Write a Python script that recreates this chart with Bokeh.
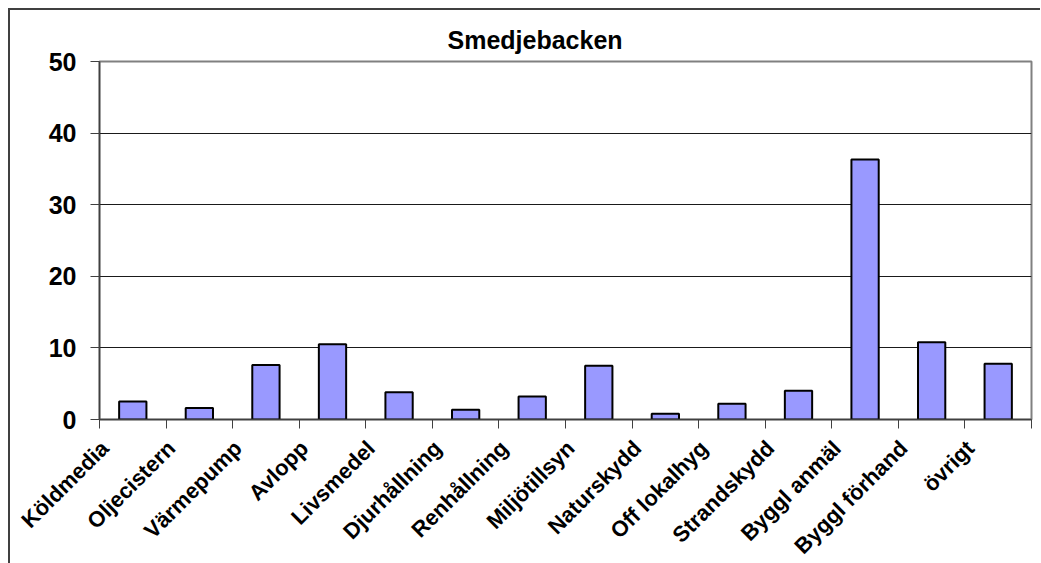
import math
from bokeh.plotting import figure
from bokeh.models import ColumnDataSource, FixedTicker, Range1d, Title
from bokeh.embed import file_html
from bokeh.resources import INLINE

categories = ["Köldmedia", "Oljecistern", "Värmepump", "Avlopp", "Livsmedel",
              "Djurhållning", "Renhållning", "Miljötillsyn", "Naturskydd",
              "Off lokalhyg", "Strandskydd", "Byggl anmäl", "Byggl förhand", "övrigt"]
values = [2.5, 1.6, 7.6, 10.5, 3.8, 1.35, 3.2, 7.5, 0.8, 2.2, 4.0, 36.3, 10.8, 7.8]
y_ticks = [0, 10, 20, 30, 40, 50]
title_text = "Smedjebacken"

n = len(categories)
centers = [i + 0.5 for i in range(n)]
src = ColumnDataSource(dict(x=centers, top=values, cat=categories))

FONT = "Liberation Sans"
LABEL_SHIFT = -0.42  # rotated labels sit left of the category centre

p = figure(output_backend="svg", toolbar_location=None,
           frame_width=932, frame_height=358,
           x_range=Range1d(0, n), y_range=Range1d(0, 50),
           min_border_left=89, min_border_top=51, min_border_right=9,
           min_border_bottom=136)
p.title = None
t = Title(text=title_text, align="left", offset=348, text_font=FONT,
          text_font_size="25px", text_font_style="bold", text_color="black",
          standoff=16)
p.add_layout(t, "above")

p.styles = {"border-left": "2px solid #404040", "border-top": "2px solid #404040",
            "margin-left": "8px", "margin-top": "8px"}

p.vbar(x="x", top="top", bottom=0, width=0.41, source=src,
       fill_color="#9999FF", line_color="black", line_width=2)

# grid
p.xgrid.visible = False
p.ygrid.ticker = FixedTicker(ticks=y_ticks)
p.ygrid.grid_line_color = "#1a1a1a"
p.ygrid.grid_line_width = 1

p.outline_line_color = "#808080"
p.outline_line_width = 2

# y axis
ya = p.yaxis[0]
ya.ticker = FixedTicker(ticks=y_ticks)
ya.axis_line_color = "#404040"
ya.axis_line_width = 1.5
ya.major_tick_in = 0
ya.major_tick_out = 9
ya.major_tick_line_color = "#404040"
ya.minor_tick_line_color = None
ya.major_label_text_font = FONT
ya.major_label_text_font_style = "bold"
ya.major_label_text_font_size = "25px"
ya.major_label_text_color = "black"
ya.major_label_standoff = 14

# x axis: labels near centers, ticks at category boundaries
label_pos = [c + LABEL_SHIFT for c in centers]
xa = p.xaxis[0]
xa.ticker = FixedTicker(ticks=label_pos, minor_ticks=list(range(n + 1)))
xa.major_label_overrides = {c: lab for c, lab in zip(label_pos, categories)}
xa.major_tick_in = 0
xa.major_tick_out = 0
xa.minor_tick_in = 0
xa.minor_tick_out = 9
xa.minor_tick_line_color = "#404040"
xa.axis_line_color = "#404040"
xa.axis_line_width = 1.5
xa.major_label_orientation = math.pi / 4
xa.major_label_text_font = FONT
xa.major_label_text_font_style = "bold"
xa.major_label_text_font_size = "22px"
xa.major_label_text_color = "black"
xa.major_label_standoff = 16

open("out.html", "w").write(file_html(p, INLINE))
